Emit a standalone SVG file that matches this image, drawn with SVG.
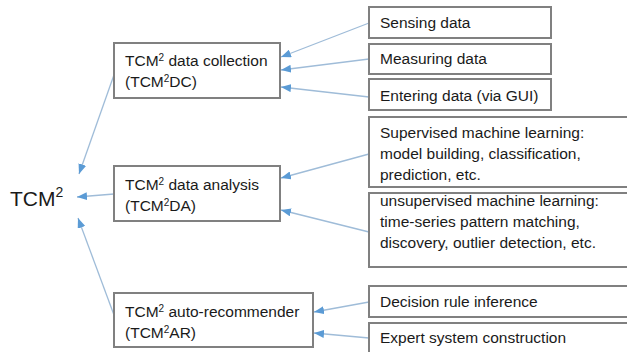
<svg xmlns="http://www.w3.org/2000/svg" width="627" height="352" viewBox="0 0 627 352">
<defs>
<style>
.box{fill:#fff;stroke:#808080;stroke-width:2}
.t{font-family:"Liberation Sans",Arial,sans-serif;font-size:15.5px;fill:#1a1a1a}
.big{font-family:"Liberation Sans",Arial,sans-serif;font-size:21px;fill:#1a1a1a}
.c{stroke:#9fbcd8;stroke-width:1.3;fill:none;marker-end:url(#ah)}
</style>
<marker id="ah" viewBox="0 0 10 8" refX="10" refY="4" markerWidth="10" markerHeight="8" markerUnits="userSpaceOnUse" orient="auto">
<path d="M0,0 L10,4 L0,8 Z" fill="#5b9bd5"/>
</marker>
</defs>
<rect width="627" height="352" fill="#fff"/>
<g id="connectors">
<line class="c" x1="115" y1="72" x2="79" y2="174"/>
<line class="c" x1="114" y1="194" x2="77" y2="197"/>
<line class="c" x1="114" y1="315" x2="78" y2="218"/>
<line class="c" x1="369" y1="23" x2="281" y2="57"/>
<line class="c" x1="369" y1="59" x2="281" y2="70"/>
<line class="c" x1="369" y1="97" x2="281" y2="87"/>
<line class="c" x1="369" y1="154" x2="281" y2="178"/>
<line class="c" x1="369" y1="232" x2="281" y2="210"/>
<line class="c" x1="369" y1="302" x2="314" y2="312"/>
<line class="c" x1="369" y1="338" x2="314" y2="333"/>
</g>
<g id="tcm2">
<text class="big" x="10" y="206">TCM<tspan font-size="14" dy="-9">2</tspan></text>
</g>
<g id="dc">
<rect class="box" x="114" y="43" width="166" height="55"/>
<text class="t" x="125" y="66">TCM<tspan font-size="10" dy="-5">2</tspan><tspan dy="5"> data collection</tspan></text>
<text class="t" x="125" y="87">(TCM<tspan font-size="10" dy="-5">2</tspan><tspan dy="5">DC)</tspan></text>
</g>
<g id="da">
<rect class="box" x="114" y="166" width="166" height="55"/>
<text class="t" x="125" y="190">TCM<tspan font-size="10" dy="-5">2</tspan><tspan dy="5"> data analysis</tspan></text>
<text class="t" x="125" y="211">(TCM<tspan font-size="10" dy="-5">2</tspan><tspan dy="5">DA)</tspan></text>
</g>
<g id="ar">
<rect class="box" x="114" y="293" width="199" height="54"/>
<text class="t" x="125" y="317">TCM<tspan font-size="10" dy="-5">2</tspan><tspan dy="5"> auto-recommender</tspan></text>
<text class="t" x="125" y="338">(TCM<tspan font-size="10" dy="-5">2</tspan><tspan dy="5">AR)</tspan></text>
</g>
<g id="sensing">
<rect class="box" x="369" y="7" width="182" height="31"/>
<text class="t" x="380" y="28">Sensing data</text>
</g>
<g id="measuring">
<rect class="box" x="369" y="44" width="182" height="30"/>
<text class="t" x="380" y="64">Measuring data</text>
</g>
<g id="entering">
<rect class="box" x="369" y="79" width="182" height="31"/>
<text class="t" x="380" y="101">Entering data (via GUI)</text>
</g>
<g id="supervised">
<rect class="box" x="369" y="117" width="262" height="70"/>
<text class="t" x="380" y="138">Supervised machine learning:</text>
<text class="t" x="380" y="159">model building, classification,</text>
<text class="t" x="380" y="180">prediction, etc.</text>
</g>
<g id="unsupervised">
<rect class="box" x="369" y="193" width="262" height="74"/>
<text class="t" x="380" y="206">unsupervised machine learning:</text>
<text class="t" x="380" y="227">time-series pattern matching,</text>
<text class="t" x="380" y="248">discovery, outlier detection, etc.</text>
</g>
<g id="decision">
<rect class="box" x="369" y="286" width="262" height="31"/>
<text class="t" x="380" y="307">Decision rule inference</text>
</g>
<g id="expert">
<rect class="box" x="369" y="323" width="262" height="40"/>
<text class="t" x="380" y="343">Expert system construction</text>
</g>
</svg>
